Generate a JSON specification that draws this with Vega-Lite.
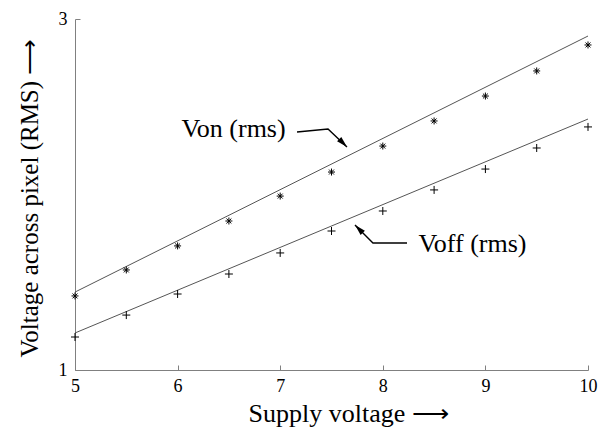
{
  "$schema": "https://vega.github.io/schema/vega-lite/v6.json",
  "width": 513,
  "height": 351,
  "autosize": {"type": "none"},
  "padding": {"left": 75, "top": 19, "right": 18, "bottom": 64},
  "background": "white",
  "config": {
    "view": {"stroke": null},
    "font": "Liberation Serif",
    "axis": {
      "grid": false,
      "domainColor": "#808080",
      "tickColor": "#808080",
      "tickSize": -5,
      "labelFlush": false,
      "labelFont": "Liberation Serif",
      "labelFontSize": 18,
      "labelColor": "#000000",
      "titleFont": "Liberation Serif",
      "titleFontSize": 26,
      "titleFontWeight": "normal",
      "titleColor": "#000000"
    }
  },
  "datasets": {
    "fits": [
      {"s": "Von", "x": 5, "y": 1.444},
      {"s": "Von", "x": 10, "y": 2.903},
      {"s": "Voff", "x": 5, "y": 1.211},
      {"s": "Voff", "x": 10, "y": 2.430}
    ],
    "pts": [
      {"s": "Von", "x": 5, "y": 1.422},
      {"s": "Von", "x": 5.5, "y": 1.570},
      {"s": "Von", "x": 6, "y": 1.707},
      {"s": "Von", "x": 6.5, "y": 1.849},
      {"s": "Von", "x": 7, "y": 1.991},
      {"s": "Von", "x": 7.5, "y": 2.128},
      {"s": "Von", "x": 8, "y": 2.276},
      {"s": "Von", "x": 8.5, "y": 2.419},
      {"s": "Von", "x": 9, "y": 2.561},
      {"s": "Von", "x": 9.5, "y": 2.704},
      {"s": "Von", "x": 10, "y": 2.852},
      {"s": "Voff", "x": 5, "y": 1.188},
      {"s": "Voff", "x": 5.5, "y": 1.313},
      {"s": "Voff", "x": 6, "y": 1.433},
      {"s": "Voff", "x": 6.5, "y": 1.547},
      {"s": "Voff", "x": 7, "y": 1.667},
      {"s": "Voff", "x": 7.5, "y": 1.792},
      {"s": "Voff", "x": 8, "y": 1.906},
      {"s": "Voff", "x": 8.5, "y": 2.026},
      {"s": "Voff", "x": 9, "y": 2.145},
      {"s": "Voff", "x": 9.5, "y": 2.265},
      {"s": "Voff", "x": 10, "y": 2.385}
    ],
    "arrows": [
      {"g": "Von", "o": 1, "x": 7.164, "y": 2.356},
      {"g": "Von", "o": 2, "x": 7.466, "y": 2.373},
      {"g": "Von", "o": 3, "x": 7.651, "y": 2.271},
      {"g": "Voff", "o": 1, "x": 8.236, "y": 1.724},
      {"g": "Voff", "o": 2, "x": 7.904, "y": 1.724},
      {"g": "Voff", "o": 3, "x": 7.729, "y": 1.826}
    ],
    "labels": [
      {"t": "Von (rms)", "x": 6.545, "y": 2.329},
      {"t": "Voff (rms)", "x": 8.874, "y": 1.674}
    ]
  },
  "encoding": {
    "x": {
      "field": "x",
      "type": "quantitative",
      "scale": {"domain": [5, 10], "nice": false, "zero": false},
      "axis": {
        "values": [5, 6, 7, 8, 9, 10],
        "format": "d",
        "labelPadding": 12,
        "title": "Supply voltage ⟶",
        "titleAlign": "left",
        "titleBaseline": "alphabetic",
        "titleX": 173,
        "titleY": 51
      }
    },
    "y": {
      "field": "y",
      "type": "quantitative",
      "scale": {"domain": [1, 3], "nice": false, "zero": false},
      "axis": {
        "values": [1, 2, 3],
        "format": "d",
        "labelPadding": 13,
        "title": "Voltage across pixel (RMS) ⟶",
        "titleFontSize": 25,
        "titleAngle": -90,
        "titleAlign": "left",
        "titleBaseline": "alphabetic",
        "titleX": -38,
        "titleY": 338
      }
    }
  },
  "layer": [
    {
      "data": {"name": "fits"},
      "mark": {"type": "line", "color": "#555555", "strokeWidth": 1},
      "encoding": {"detail": {"field": "s", "type": "nominal"}}
    },
    {
      "data": {"name": "arrows"},
      "mark": {"type": "line", "color": "#000000", "strokeWidth": 1.4},
      "encoding": {
        "detail": {"field": "g", "type": "nominal"},
        "order": {"field": "o", "type": "quantitative"}
      }
    },
    {
      "data": {"name": "arrows"},
      "transform": [{"filter": "datum.o == 3"}],
      "mark": {"type": "point", "filled": true, "color": "#000000", "strokeWidth": 0, "opacity": 1, "size": 100, "shape": "M0,0L-0.6,2.2L0.6,2.2Z"},
      "encoding": {
        "angle": {
          "field": "g",
          "type": "nominal",
          "scale": {"domain": ["Von", "Voff"], "range": [135, 315]},
          "legend": null
        }
      }
    },
    {
      "data": {"name": "pts"},
      "mark": {"type": "point", "filled": false, "color": "#000000", "strokeWidth": 1, "opacity": 1},
      "encoding": {
        "shape": {
          "field": "s",
          "type": "nominal",
          "scale": {
            "domain": ["Von", "Voff"],
            "range": ["M-1,0L1,0M0,-1L0,1M-0.7,-0.7L0.7,0.7M-0.7,0.7L0.7,-0.7", "M-1,0L1,0M0,-1L0,1"]
          },
          "legend": null
        },
        "size": {
          "field": "s",
          "type": "nominal",
          "scale": {"domain": ["Von", "Voff"], "range": [49, 64]},
          "legend": null
        }
      }
    },
    {
      "data": {"name": "labels"},
      "mark": {"type": "text", "font": "Liberation Serif", "fontSize": 26, "align": "center", "baseline": "alphabetic", "color": "#000000"},
      "encoding": {"text": {"field": "t", "type": "nominal"}}
    }
  ]
}
